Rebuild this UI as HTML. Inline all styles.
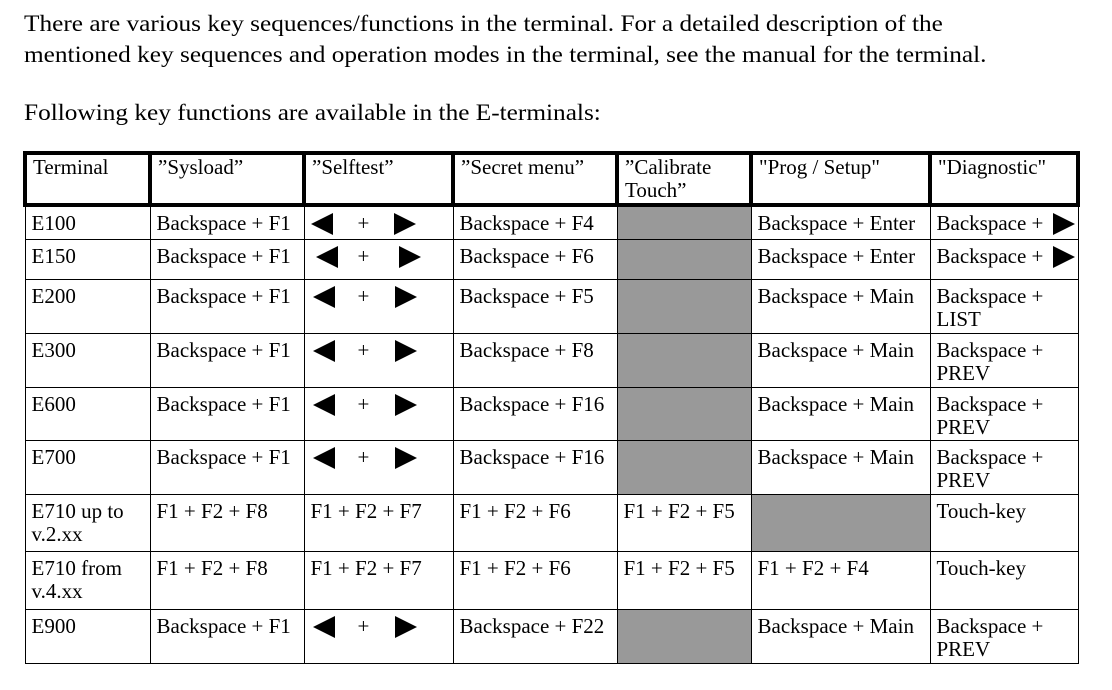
<!DOCTYPE html>
<html><head><style>
body{margin:0;width:1112px;height:690px;background:#fff;font-family:"Liberation Serif",serif;color:#000;position:relative;overflow:hidden}
.p{position:absolute;left:24px;font-size:23px;line-height:31px;white-space:nowrap;transform:scaleX(1.1);transform-origin:0 0}
table{position:absolute;left:23px;top:151px;border-collapse:collapse;table-layout:fixed;font-size:21px;line-height:23px}
td,th{border:1.5px solid #000;vertical-align:top;text-align:left;font-weight:normal;padding:5px 6px 0 6px;white-space:nowrap;position:relative}
th{border:4px solid #000;padding-top:1px}
.g{background:#999}
.tl,.tr{position:absolute;top:6px;width:0;height:0;border-top:11px solid transparent;border-bottom:11px solid transparent}
.tl{border-right:22px solid #000}
.tr{border-left:22px solid #000}
.pl{position:absolute;top:5px;left:53px}
</style></head><body>
<div class="p" style="top:8px">There are various key sequences/functions in the terminal. For a detailed description of the<br>mentioned key sequences and operation modes in the terminal, see the manual for the terminal.</div>
<div class="p" style="top:97px">Following key functions are available in the E-terminals:</div>
<table>
<colgroup><col style="width:125px"><col style="width:154px"><col style="width:149px"><col style="width:164px"><col style="width:134px"><col style="width:179px"><col style="width:148px"></colgroup>
<tr style="height:52px"><th>Terminal</th><th>”Sysload”</th><th>”Selftest”</th><th>”Secret menu”</th><th>”Calibrate<br>Touch”</th><th>"Prog / Setup"</th><th>"Diagnostic"</th></tr>
<tr style="height:34px"><td>E100</td><td>Backspace + F1</td><td><span class="tl" style="left:6px"></span><span class="pl">+</span><span class="tr" style="left:89px"></span></td><td>Backspace + F4</td><td class="g"></td><td>Backspace + Enter</td><td>Backspace +<span class="tr" style="left:122px"></span></td></tr>
<tr style="height:40px"><td>E150</td><td>Backspace + F1</td><td><span class="tl" style="left:11px"></span><span class="pl">+</span><span class="tr" style="left:94px"></span></td><td>Backspace + F6</td><td class="g"></td><td>Backspace + Enter</td><td>Backspace +<span class="tr" style="left:122px"></span></td></tr>
<tr style="height:54px"><td>E200</td><td>Backspace + F1</td><td><span class="tl" style="left:8px"></span><span class="pl">+</span><span class="tr" style="left:90px"></span></td><td>Backspace + F5</td><td class="g"></td><td>Backspace + Main</td><td>Backspace +<br>LIST</td></tr>
<tr style="height:54px"><td>E300</td><td>Backspace + F1</td><td><span class="tl" style="left:8px"></span><span class="pl">+</span><span class="tr" style="left:90px"></span></td><td>Backspace + F8</td><td class="g"></td><td>Backspace + Main</td><td>Backspace +<br>PREV</td></tr>
<tr style="height:53px"><td>E600</td><td>Backspace + F1</td><td><span class="tl" style="left:8px"></span><span class="pl">+</span><span class="tr" style="left:90px"></span></td><td>Backspace + F16</td><td class="g"></td><td>Backspace + Main</td><td>Backspace +<br>PREV</td></tr>
<tr style="height:54px"><td>E700</td><td>Backspace + F1</td><td><span class="tl" style="left:8px"></span><span class="pl">+</span><span class="tr" style="left:90px"></span></td><td>Backspace + F16</td><td class="g"></td><td>Backspace + Main</td><td>Backspace +<br>PREV</td></tr>
<tr style="height:57px"><td>E710 up to<br>v.2.xx</td><td>F1 + F2 + F8</td><td>F1 + F2 + F7</td><td>F1 + F2 + F6</td><td>F1 + F2 + F5</td><td class="g"></td><td>Touch-key</td></tr>
<tr style="height:58px"><td>E710 from<br>v.4.xx</td><td>F1 + F2 + F8</td><td>F1 + F2 + F7</td><td>F1 + F2 + F6</td><td>F1 + F2 + F5</td><td>F1 + F2 + F4</td><td>Touch-key</td></tr>
<tr style="height:54px"><td>E900</td><td>Backspace + F1</td><td><span class="tl" style="left:8px"></span><span class="pl">+</span><span class="tr" style="left:90px"></span></td><td>Backspace + F22</td><td class="g"></td><td>Backspace + Main</td><td>Backspace +<br>PREV</td></tr>
</table>
</body></html>
